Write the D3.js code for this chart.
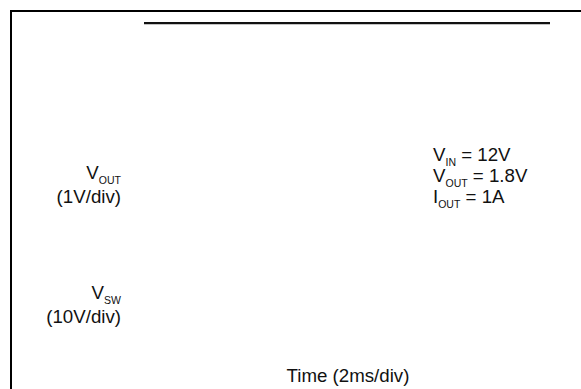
<!DOCTYPE html>
<html>
<head>
<meta charset="utf-8">
<script src="https://cdn.jsdelivr.net/npm/d3@7"></script>
<style>
  html, body { margin: 0; padding: 0; background: #fff; }
  svg { display: block; }
  text { font-family: "Liberation Sans", Arial, sans-serif; fill: #111; }
</style>
</head>
<body>
<div id="chart"></div>
<script>
// trace (time in ms, level in divisions of 1V/div)
var traceTime = [4.75, 19.25];
var traceLevel = [7.75, 7.75];

// channel labels on the left
var channelNames = ["V", "V"];
var channelSubs = ["OUT", "SW"];
var channelScales = ["(1V/div)", "(10V/div)"];

// test conditions on the right
var condNames = ["V", "V", "I"];
var condSubs = ["IN", "OUT", "OUT"];
var condValues = [" = 12V", " = 1.8V", " = 1A"];

var xLabel = "Time (2ms/div)";

function init() {
  var width = 581, height = 389;
  var left = 11, top = 11, right = 571;

  var svg = d3.select("#chart")
    .append("svg")
    .attr("width", width)
    .attr("height", height);

  // scope screen: 10 time divisions of 2ms, 8 vertical divisions
  var x = d3.scaleLinear().domain([0, 20]).range([left, right]);
  var y = d3.scaleLinear().domain([0, 8]).range([height, top]);

  // frame (top and left edges only)
  svg.append("path")
    .attr("d", "M" + left + "," + height + "V" + top + "H" + width)
    .attr("fill", "none")
    .attr("stroke", "#000")
    .attr("stroke-width", 2);

  // the trace
  var pts = traceTime.map(function (t, i) { return [t, traceLevel[i]]; });
  svg.append("path")
    .datum(pts)
    .attr("d", d3.line()
      .x(function (d) { return x(d[0]); })
      .y(function (d) { return y(d[1]) + 0.4; }))
    .attr("fill", "none")
    .attr("stroke", "#111")
    .attr("stroke-width", 2.2);

  var fs = 18.7, subFs = 10.5, subDy = 4.5;

  // channel labels, right aligned
  var chanY = [179, 299];
  channelNames.forEach(function (n, i) {
    var t = svg.append("text")
      .attr("x", 121)
      .attr("y", chanY[i])
      .attr("text-anchor", "end")
      .style("font-size", fs + "px");
    t.append("tspan").text(n);
    t.append("tspan").attr("dy", subDy).style("font-size", subFs + "px").text(channelSubs[i]);
    svg.append("text")
      .attr("x", 121)
      .attr("y", chanY[i] + 24)
      .attr("text-anchor", "end")
      .style("font-size", fs + "px")
      .text(channelScales[i]);
  });

  // conditions
  condNames.forEach(function (n, i) {
    var t = svg.append("text")
      .attr("x", 433)
      .attr("y", 161 + i * 21)
      .style("font-size", fs + "px");
    t.append("tspan").text(n);
    t.append("tspan").attr("dy", subDy).style("font-size", subFs + "px").text(condSubs[i]);
    t.append("tspan").attr("dy", -subDy).text(condValues[i]);
  });

  // x axis label
  svg.append("text")
    .attr("x", 348)
    .attr("y", 382)
    .attr("text-anchor", "middle")
    .style("font-size", fs + "px")
    .text(xLabel);
}
window.onload = init;
</script>
</body>
</html>
